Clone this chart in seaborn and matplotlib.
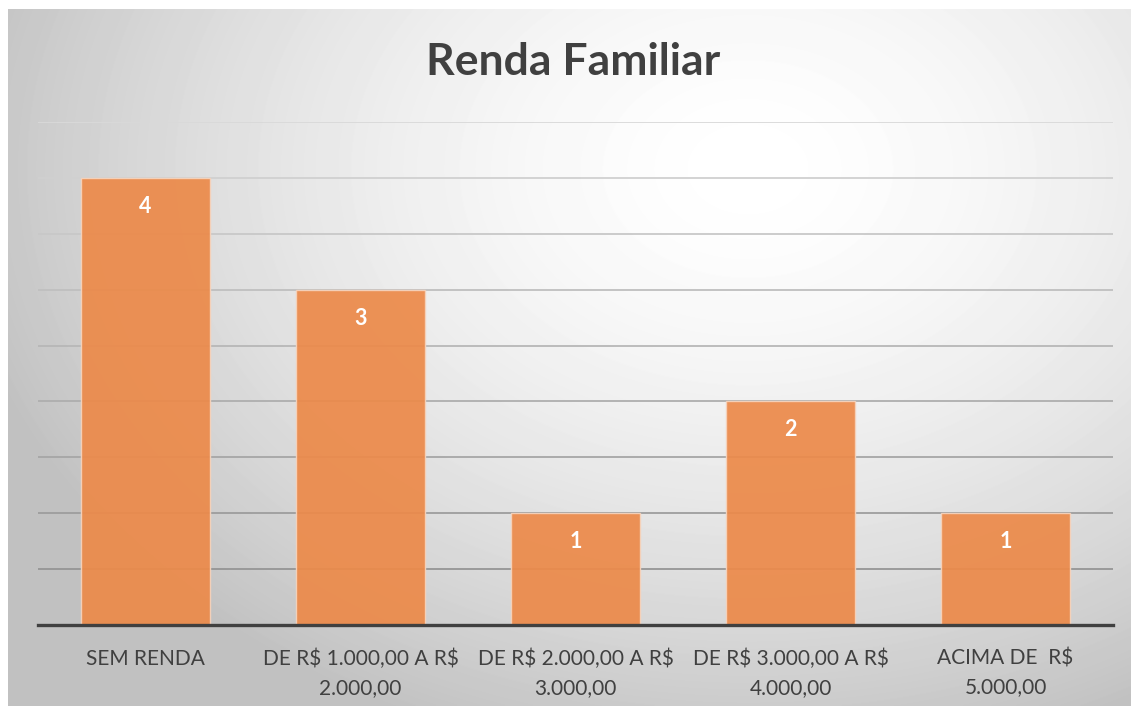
import numpy as np
import matplotlib
matplotlib.use('Agg')
import matplotlib.pyplot as plt
import seaborn as sns

categories = ['SEM RENDA', 'DE R$ 1.000,00 A R$\n2.000,00', 'DE R$ 2.000,00 A R$\n3.000,00',
              'DE R$ 3.000,00 A R$\n4.000,00', 'ACIMA DE  R$\n5.000,00']
values = [4, 3, 1, 2, 1]
grid_levels = [0.5, 1.0, 1.5, 2.0, 2.5, 3.0, 3.5, 4.0, 4.5]

sns.set_style('white')
plt.rcParams['font.family'] = ['Lato', 'DejaVu Sans']
plt.rcParams['text.parse_math'] = False

fig = plt.figure(figsize=(11.39, 7.14), dpi=100)
fig.patch.set_facecolor('white')

# radial gradient background of the chart area
bg = fig.add_axes([8 / 1139, 8 / 714, 1123 / 1139, 697 / 714], zorder=0)
w, h = 1123, 697
yy, xx = np.mgrid[0:h, 0:w]
d = np.sqrt(((xx - 740) / 800.0) ** 2 + ((yy - 160) / 600.0) ** 2)
d = np.clip(d, 0, 1)
g = 1.0 - 0.24 * d ** 1.6
bg.imshow(g, cmap='gray', vmin=0, vmax=1, aspect='auto', interpolation='bilinear')
bg.axis('off')

ax = fig.add_axes([38 / 1139, 89 / 714, 1075 / 1139, 503 / 714], zorder=1)
ax.patch.set_alpha(0)

# gridlines get darker toward the bottom
for lv in grid_levels:
    t = lv / 4.5
    c = 0.55 + 0.3 * t
    ax.axhline(lv, color=(c, c, c), lw=1.3, zorder=0.5)

sns.barplot(x=categories, y=values, color='#EC8A4A', width=0.6, ax=ax,
            saturation=1, alpha=0.93, edgecolor='#f6d3bc', linewidth=1, zorder=2)

ax.bar_label(ax.containers[0], fmt='%d', padding=-28, color='white',
             fontsize=15.5, fontweight='bold')

ax.set_xlim(-0.5, 4.5)
ax.set_ylim(0, 4.5)
ax.set_yticks([])
ax.set_xlabel('')
ax.set_ylabel('')
for s in ['top', 'left', 'right']:
    ax.spines[s].set_visible(False)
ax.spines['bottom'].set_color('#404040')
ax.spines['bottom'].set_linewidth(2.4)
ax.spines['bottom'].set_zorder(3)
ax.tick_params(axis='x', length=0, pad=17, labelsize=15, labelcolor='#404040')
for lbl in ax.get_xticklabels():
    lbl.set_linespacing(1.55)

fig.text(0.5 + 8 / 1139 / 2, 1 - 62 / 714, 'Renda Familiar', ha='center', va='center',
         fontsize=32, fontweight='bold', color='#404040')

fig.savefig('out.png', dpi=100)
